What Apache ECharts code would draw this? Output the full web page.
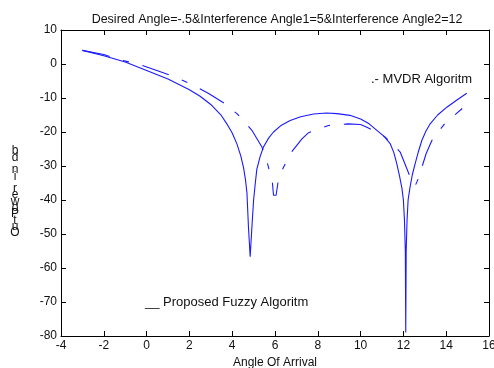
<!DOCTYPE html>
<html><head><meta charset="utf-8">
<script src="https://cdn.jsdelivr.net/npm/echarts@6/dist/echarts.min.js"></script>
<style>html,body{margin:0;padding:0;background:#fff}#c{width:494px;height:368px}</style>
</head><body><div id="c"></div>
<script>
const titleText = 'Desired Angle=-.5&Interference Angle1=5&Interference Angle2=12';
const xAxisName = 'Angle Of Arrival';
const yAxisLabelStacked = ['b','d',' ','n','i',' ','r','e','w','o','P','t','u','O'];
const legendMvdr = '.- MVDR Algoritm';
const legendFuzzy = '__ Proposed Fuzzy Algoritm';
const xMin = -4, xMax = 16, xStep = 2;
const yMin = -80, yMax = 10, yStep = 10;

const fuzzyX = [-3, -2, -1, 0, 1, 2, 2.5, 3, 3.5, 3.75, 4.0, 4.22, 4.4, 4.53, 4.62, 4.69, 4.76, 4.84, 4.92, 5.0, 5.08, 5.15, 5.3, 5.46, 5.7, 5.93, 6.3, 6.71, 7.2, 7.8, 8.4, 8.9, 9.5, 10.0, 10.4, 10.76, 11.1, 11.38, 11.55, 11.69, 11.82, 11.93, 12.0, 12.05, 12.09, 12.11, 12.13, 12.17, 12.22, 12.31, 12.42, 12.55, 12.7, 12.86, 13.05, 13.25, 13.6, 14.03, 14.5, 14.96];
const fuzzyY = [4.0, 2.4, 0.6, -1.9, -4.4, -7.6, -9.5, -11.9, -15.2, -17.6, -20.3, -23.5, -27.0, -30.5, -34.0, -38.0, -48.0, -56.7, -48.0, -40.0, -35.0, -31.0, -27.3, -24.4, -21.8, -20.0, -18.0, -16.6, -15.5, -14.7, -14.4, -14.6, -15.1, -16.2, -17.6, -19.5, -21.3, -23.4, -26.0, -29.3, -33.0, -36.5, -40.0, -46.0, -55.0, -79.0, -55.0, -46.0, -40.0, -36.2, -32.5, -29.3, -25.8, -22.5, -19.8, -17.6, -15.0, -12.7, -10.6, -8.6];

const mvdrX = [-3, -2, -1.23, -0.4, 0.48, 1.3, 2.12, 2.9, 3.67, 4.22, 4.45, 4.92, 5.39, 5.66, 5.88, 5.93, 6.05, 6.16, 6.35, 6.71, 7.26, 7.57, 8.5, 9.4, 10.0, 10.29, 10.91, 11.15, 11.7, 11.85, 12.13, 12.44, 12.55, 12.7, 13.06, 13.33, 13.53, 13.95, 14.4, 14.75];
const mvdrY = [4.0, 2.8, 1.2, 0.0, -1.9, -3.8, -6.0, -8.7, -11.7, -14.6, -16.1, -19.5, -24.4, -29.5, -35.0, -38.6, -38.6, -34.0, -31.0, -26.4, -22.0, -20.2, -18.1, -17.6, -17.8, -18.6, -20.5, -21.5, -24.9, -25.9, -30.3, -35.2, -35.8, -33.7, -26.4, -22.5, -20.7, -17.4, -15.0, -13.1];

const FONT = 'Liberation Sans, Arial, sans-serif';
const lineColor = '#1a1aff';
const axisBase = {
  axisLine: { show: true, onZero: false, lineStyle: { color: '#000', width: 1 } },
  axisTick: { show: true, inside: true, length: 5, lineStyle: { color: '#000' } },
  splitLine: { show: false }
};
const chart = echarts.init(document.getElementById('c'), null, { renderer: 'canvas' });
chart.setOption({
  animation: false,
  backgroundColor: '#fff',
  textStyle: { fontFamily: FONT },
  title: {
    text: titleText, left: 272, top: 8, textAlign: 'center',
    textStyle: { fontSize: 12.5, fontWeight: 'normal', color: '#111', fontFamily: FONT }
  },
  grid: { left: 61, right: 5, top: 30, bottom: 32, containLabel: false, outerBoundsMode: 'none' },
  xAxis: [
    Object.assign({}, axisBase, {
      type: 'value', min: xMin, max: xMax, interval: xStep, position: 'bottom',
      name: xAxisName, nameLocation: 'middle', nameGap: 20,
      nameTextStyle: { fontSize: 12, color: '#111', fontFamily: FONT },
      axisLabel: { fontSize: 12, color: '#111', margin: 4, fontFamily: FONT }
    }),
    Object.assign({}, axisBase, {
      type: 'value', min: xMin, max: xMax, interval: xStep, position: 'top',
      axisLabel: { show: false }
    })
  ],
  yAxis: [
    Object.assign({}, axisBase, {
      type: 'value', min: yMin, max: yMax, interval: yStep, position: 'left',
      axisLabel: { fontSize: 12, color: '#111', margin: 4, fontFamily: FONT }
    }),
    Object.assign({}, axisBase, {
      type: 'value', min: yMin, max: yMax, interval: yStep, position: 'right',
      axisLabel: { show: false }
    })
  ],
  graphic: [
    { type: 'text', left: 371, top: 73, style: { text: legendMvdr, fontSize: 13, fill: '#111', fontFamily: FONT } },
    { type: 'text', left: 145, top: 296, style: { text: legendFuzzy, fontSize: 13, fill: '#111', fontFamily: FONT } },
    { type: 'text', x: 15, y: 192, style: { text: yAxisLabelStacked.join('\n'), fontSize: 12, lineHeight: 6.3, align: 'center', verticalAlign: 'middle', fill: '#111', fontFamily: FONT } }
  ],
  series: [
    {
      name: 'Proposed Fuzzy', type: 'line', showSymbol: false, symbol: 'none',
      data: fuzzyX.map((x, i) => [x, fuzzyY[i]]),
      lineStyle: { color: lineColor, width: 1.1 }
    },
    {
      name: 'MVDR', type: 'line', showSymbol: false, symbol: 'none',
      data: mvdrX.map((x, i) => [x, mvdrY[i]]),
      lineStyle: { color: lineColor, width: 1.1, type: [28, 14, 6, 14] }
    }
  ]
});
</script>
</body></html>
